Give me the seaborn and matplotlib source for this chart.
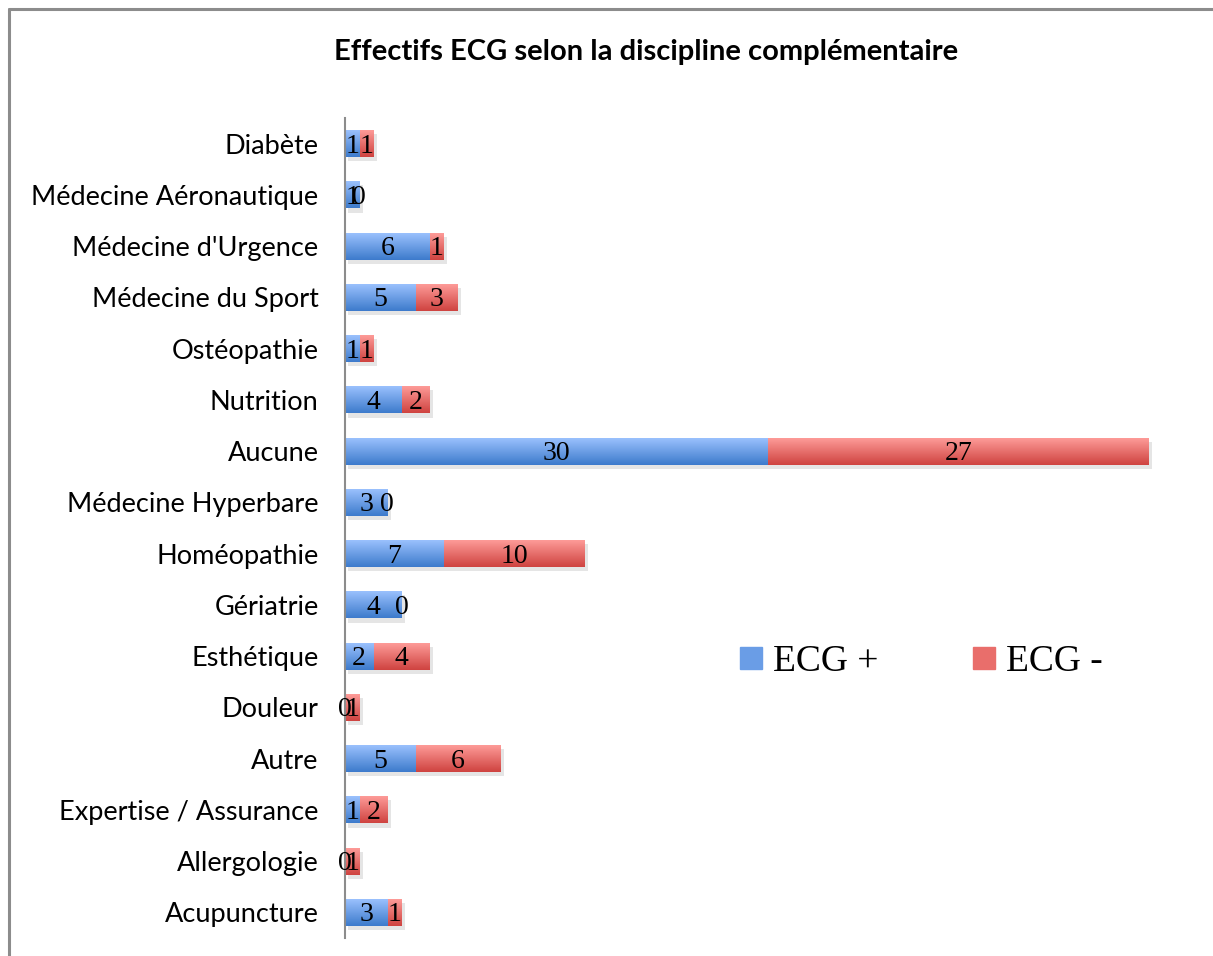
import numpy as np
import pandas as pd
import matplotlib.pyplot as plt
import matplotlib.patheffects as pe
from matplotlib.lines import Line2D
from matplotlib.colors import LinearSegmentedColormap
import seaborn as sns

# ==============================
# DATA
# ==============================
categories = ["Diabète", "Médecine Aéronautique", "Médecine d'Urgence", "Médecine du Sport",
              "Ostéopathie", "Nutrition", "Aucune", "Médecine Hyperbare", "Homéopathie",
              "Gériatrie", "Esthétique", "Douleur", "Autre", "Expertise / Assurance",
              "Allergologie", "Acupuncture"]
ecg_plus = [1, 1, 6, 5, 1, 4, 30, 3, 7, 4, 2, 0, 5, 1, 0, 3]
ecg_minus = [1, 0, 1, 3, 1, 2, 27, 0, 10, 0, 4, 1, 6, 2, 1, 1]

title = "Effectifs ECG selon la discipline complémentaire"
legend_labels = ["ECG +", "ECG -"]

df = pd.DataFrame({"cat": categories, "plus": ecg_plus, "minus": ecg_minus})
df["total"] = df["plus"] + df["minus"]

# ==============================
# STYLE
# ==============================
sns.set_style("white")
plt.rcParams['font.family'] = ['Lato', 'DejaVu Sans']
plt.rcParams['text.color'] = 'black'

W, H = 1213, 956
fig = plt.figure(figsize=(W / 100, H / 100), dpi=100)
ax = fig.add_axes([345 / W, 1 - 938 / H, 846 / W, 820 / H])

blue_mid, red_mid = "#6A9DE6", "#E96E6B"
blue_cmap = LinearSegmentedColormap.from_list("b", ["#9DC3FF", "#3D7BCC"])
red_cmap = LinearSegmentedColormap.from_list("r", ["#FF9E9B", "#CF4340"])

shadow = [pe.SimplePatchShadow(offset=(2.5, -3), shadow_rgbFace="#000000", alpha=0.1), pe.Normal()]

# total (red) first, blue on top
sns.barplot(data=df, y="cat", x="total", color=red_mid, width=0.53, orient="h",
            ax=ax, saturation=1, linewidth=0)
n = len(categories)
sns.barplot(data=df, y="cat", x="plus", color=blue_mid, width=0.53, orient="h",
            ax=ax, saturation=1, linewidth=0)

# gradient fill clipped to each bar
grad = np.linspace(0, 1, 64).reshape(-1, 1)
patches = list(ax.patches)
for i, p in enumerate(patches):
    cmap = red_cmap if i < n else blue_cmap
    x0, y0 = p.get_x(), p.get_y()
    w, h = p.get_width(), p.get_height()
    if w <= 0:
        continue
    if i < n:
        p.set_path_effects(shadow)
    im = ax.imshow(grad, cmap=cmap, aspect="auto", extent=(x0, x0 + w, y0 + h, y0),
                   origin="upper", zorder=p.get_zorder() + 0.1 + (0.2 if i >= n else 0))
    im.set_clip_path(p)

ax.set_xlim(0, 60)
ax.set_ylim(n - 0.5, -0.5)

# value labels
for i, (b, r) in enumerate(zip(ecg_plus, ecg_minus)):
    ax.text(b / 2, i + 0.05, str(b), ha="center", va="center", fontsize=20,
            family="Liberation Serif", color="black", zorder=10)
    ax.text(b + r / 2, i + 0.05, str(r), ha="center", va="center", fontsize=20,
            family="Liberation Serif", color="black", zorder=10)

ax.set_xlabel("")
ax.set_ylabel("")
ax.set_xticks([])
ax.tick_params(axis="y", length=0, pad=19, labelsize=19.5, labelcolor="black")
for s in ["top", "right", "bottom"]:
    ax.spines[s].set_visible(False)
ax.spines["left"].set_color("#8C8C8C")
ax.spines["left"].set_linewidth(1.5)

fig.text(646 / W, 1 - 52 / H, title, ha="center", va="center",
         fontsize=21, fontweight="bold", color="black")

# legend
handles = [Line2D([], [], marker="s", linestyle="", markersize=16.5, color=blue_mid),
           Line2D([], [], marker="s", linestyle="", markersize=16.5, color=red_mid)]
leg = fig.legend(handles, legend_labels, loc="center left", bbox_to_anchor=(702 / W, 1 - 662 / H),
                 ncol=2, frameon=False, handlelength=0.8, handletextpad=0.2,
                 columnspacing=2.4, prop={"family": "Liberation Serif", "size": 27})

# outer frame (left and top edges)
fig.add_artist(Line2D([8.5 / W, 8.5 / W], [0, 1 - 8.5 / H], color="#8C8C8C", linewidth=2.2))
fig.add_artist(Line2D([8.5 / W, 1], [1 - 8.5 / H, 1 - 8.5 / H], color="#8C8C8C", linewidth=2.2))

fig.savefig("out.png", dpi=100)
